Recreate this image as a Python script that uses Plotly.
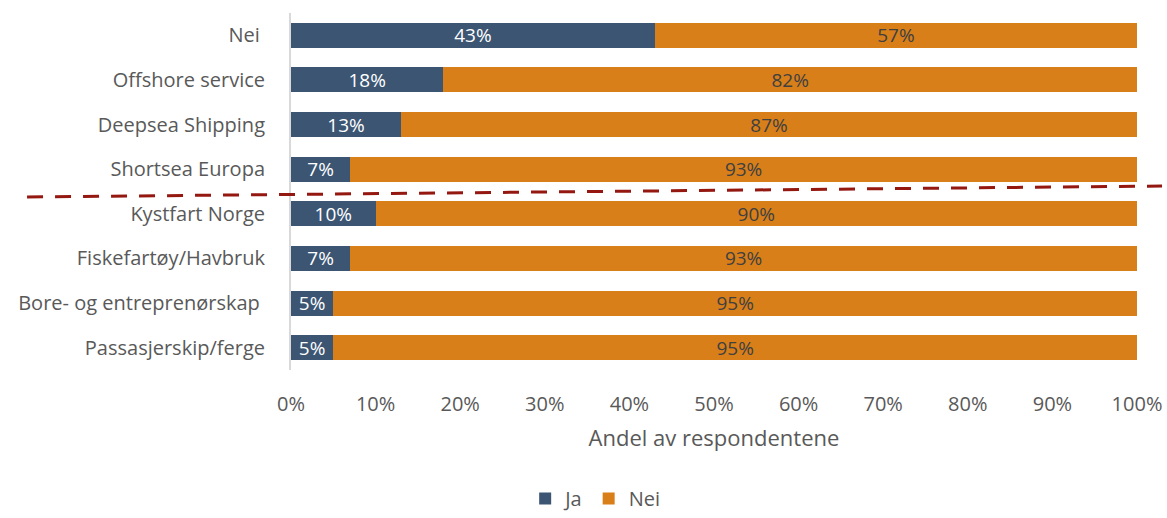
import plotly.graph_objects as go

# Segments, top to bottom
categories = ["Nei ", "Offshore service", "Deepsea Shipping", "Shortsea Europa",
              "Kystfart Norge", "Fiskefartøy/Havbruk", "Bore- og entreprenørskap ",
              "Passasjerskip/ferge"]
ja_values = [43, 18, 13, 7, 10, 7, 5, 5]
nei_values = [57, 82, 87, 93, 90, 93, 95, 95]
x_ticks = [0, 10, 20, 30, 40, 50, 60, 70, 80, 90, 100]
x_tick_labels = [f"{v}%" for v in x_ticks]

BLUE = "#3B5573"
ORANGE = "#D97F1A"
FONT = "Open Sans"
GREY_TEXT = "#595959"

y_labels = [c.replace(" ", "\u00a0") for c in categories]

fig = go.Figure()
fig.add_trace(go.Bar(
    name="Ja", y=y_labels, x=ja_values, orientation="h",
    marker=dict(color=BLUE, line=dict(width=0)),
    text=[f"{v}%" for v in ja_values], textposition="inside",
    insidetextanchor="middle", constraintext="none",
    textfont=dict(family=FONT, size=19, color="white"),
    hoverinfo="skip",
))
fig.add_trace(go.Bar(
    name="Nei", y=y_labels, x=nei_values, orientation="h",
    marker=dict(color=ORANGE, line=dict(width=0)),
    text=[f"{v}%" for v in nei_values], textposition="inside",
    insidetextanchor="middle", constraintext="none",
    textfont=dict(family=FONT, size=19, color="#404040"),
    hoverinfo="skip",
))

# Dashed divider between the top group and the rest
fig.add_shape(type="line", xref="paper", yref="paper",
              x0=-0.312, y0=0.4846, x1=1.0296, y1=0.5154,
              line=dict(color="#941710", width=3, dash="16px,12px"))

fig.update_layout(
    barmode="stack",
    bargap=0.44,
    width=1167, height=518,
    margin=dict(l=291, r=30, t=13, b=148, autoexpand=False),
    paper_bgcolor="white", plot_bgcolor="white",
    font=dict(family=FONT, size=20, color=GREY_TEXT),
    legend=dict(orientation="h", x=0.51, xanchor="center", xref="container",
                y=-0.012, yanchor="bottom", yref="container",
                font=dict(family=FONT, size=20, color=GREY_TEXT),
                itemwidth=30, traceorder="normal", tracegroupgap=0),
    xaxis=dict(range=[0, 100], tickvals=x_ticks, ticktext=x_tick_labels,
               showgrid=False, zeroline=False, showline=False,
               ticklabelstandoff=20,
               tickfont=dict(family=FONT, size=20, color=GREY_TEXT),
               title=dict(text="Andel av respondentene",
                          font=dict(family=FONT, size=22, color=GREY_TEXT),
                          standoff=14)),
    yaxis=dict(categoryorder="array", categoryarray=y_labels[::-1],
               autorange=False, range=[-0.5, 7.5],
               showgrid=False, zeroline=False,
               showline=True, linecolor="#D9D9D9", linewidth=2,
               ticklabelstandoff=20,
               tickfont=dict(family=FONT, size=20, color=GREY_TEXT)),
)

fig.write_html("out.html")
